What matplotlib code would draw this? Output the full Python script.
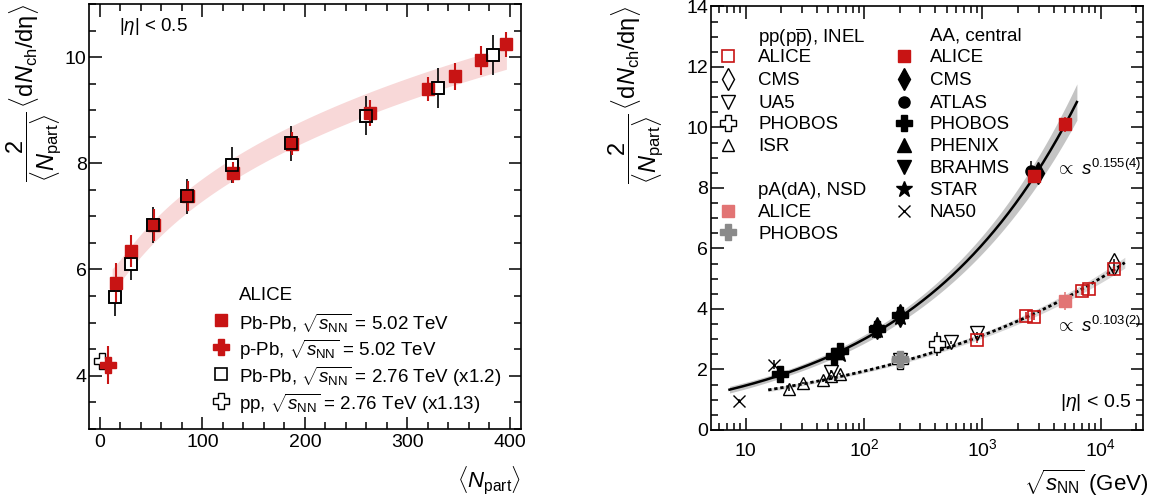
import numpy as np
import matplotlib.pyplot as plt
from matplotlib.ticker import (MultipleLocator, FixedLocator, FixedFormatter,
                               LogLocator, NullFormatter)

plt.rcParams['font.family'] = ['Liberation Sans', 'DejaVu Sans']
plt.rcParams['mathtext.fontset'] = 'custom'
plt.rcParams['mathtext.rm'] = 'Liberation Sans'
plt.rcParams['mathtext.it'] = 'Liberation Sans:italic'
plt.rcParams['mathtext.bf'] = 'Liberation Sans:bold'

RED = '#c81414'
PINK = '#f8d8d8'
PA_RED = '#e27474'
GREY = '#8a8a8a'

# ---- left panel: 2/<Npart> <dNch/deta> vs <Npart> ----
npart_pbpb502 = [15.4, 30, 53, 86, 130, 187, 263, 320, 346, 372, 396.5]
dndeta_pbpb502 = [5.75, 6.35, 6.83, 7.38, 7.82, 8.37, 8.95, 9.40, 9.64, 9.94, 10.24]
err_pbpb502 = [0.38, 0.30, 0.30, 0.28, 0.20, 0.22, 0.25, 0.23, 0.25, 0.27, 0.23]

npart_ppb = [7.9]
dndeta_ppb = [4.2]
err_ppb = [0.36]

npart_pbpb276 = [14.7, 30, 52, 85, 129, 186, 260, 330, 383]
dndeta_pbpb276 = [5.49, 6.10, 6.83, 7.38, 7.97, 8.38, 8.90, 9.42, 10.04]
err_pbpb276 = [0.37, 0.30, 0.34, 0.33, 0.34, 0.33, 0.36, 0.37, 0.38]

npart_pp276 = [2]
dndeta_pp276 = [4.28]
err_pp276 = [0.1]

# ---- right panel: vs sqrt(s_NN) ----
# pp(pbar p), INEL
pp_alice_s = [900, 2360, 2760, 7000, 8000, 13000]
pp_alice_y = [2.98, 3.78, 3.75, 4.60, 4.66, 5.31]
pp_alice_e = [0.10, 0.12, 0.10, 0.15, 0.15, 0.12]
pp_cms_s = [13000]
pp_cms_y = [5.49]
pp_cms_e = [0.15]
pp_ua5_s = [53, 200, 546, 900]
pp_ua5_y = [1.93, 2.30, 2.90, 3.20]
pp_ua5_e = [0.05, 0.05, 0.05, 0.05]
pp_phobos_s = [200, 410]
pp_phobos_y = [2.29, 2.85]
pp_phobos_e = [0.15, 0.40]
pp_isr_s = [23.4, 30.7, 44.8, 52.8, 62.4]
pp_isr_y = [1.34, 1.56, 1.64, 1.78, 1.86]
pp_isr_e = [0.04, 0.04, 0.04, 0.04, 0.04]
# pA(dA), NSD
pa_alice_s = [5020]
pa_alice_y = [4.27]
pa_alice_e = [0.30]
pa_phobos_s = [200]
pa_phobos_y = [2.35]
pa_phobos_e = [0.1]
# AA, central
aa_alice_s = [2760, 5020]
aa_alice_y = [8.38, 10.11]
aa_alice_e = [0.2, 0.25]
aa_cms_s = [2950]
aa_cms_y = [8.50]
aa_cms_e = [0.3]
aa_atlas_s = [2600]
aa_atlas_y = [8.55]
aa_atlas_e = [0.35]
aa_phobos_s = [19.6, 56, 62.4, 130, 200]
aa_phobos_y = [1.85, 2.45, 2.60, 3.35, 3.80]
aa_phobos_e = [0.1, 0.1, 0.1, 0.15, 0.15]
aa_phenix_s = [130, 200]
aa_phenix_y = [3.50, 3.95]
aa_phenix_e = [0.15, 0.15]
aa_brahms_s = [130, 200]
aa_brahms_y = [3.25, 3.65]
aa_brahms_e = [0.15, 0.15]
aa_star_s = [62.4, 130, 200]
aa_star_y = [2.50, 3.30, 3.75]
aa_star_e = [0.1, 0.1, 0.1]
aa_na50_s = [8.8, 17.3]
aa_na50_y = [0.96, 2.15]
aa_na50_e = [0.05, 0.15]

# power-law fits, quoted in the figure as s^0.155(4) and s^0.103(2)
fit_aa_exp, fit_aa_err, fit_aa_norm = 0.155, 0.004, 0.72
fit_aa_range = (7.3, 6300)
fit_pp_exp, fit_pp_err, fit_pp_norm = 0.103, 0.002, 0.753
fit_pp_range = (15.5, 16000)

YLABEL = (r'$\dfrac{2}{\langle N_{\rm part}\rangle}\,'
          r'\langle {\rm d}N_{\rm ch}/{\rm d}\mathrm{\eta}\rangle$')


def style_axes(ax):
    for sp in ax.spines.values():
        sp.set_linewidth(1.2)
    ax.tick_params(which='both', direction='in', top=True, right=True,
                   width=1.1, labelsize=14, pad=2)
    ax.tick_params(which='major', length=9)
    ax.tick_params(which='minor', length=4.8)


def legend_rows(ax, xm, xt, ys, labels, styles, fs=13.5):
    for y, lab, st in zip(ys, labels, styles):
        if st is not None:
            ax.plot([xm], [y], linestyle='none', transform=ax.transAxes,
                    clip_on=False, **st)
        ax.text(xt, y, lab, transform=ax.transAxes, ha='left',
                va='center_baseline', fontsize=fs)


fig = plt.figure(figsize=(11.55, 4.99), dpi=100)
ax1 = fig.add_axes([0.0773, 0.1409, 0.374, 0.851])
ax2 = fig.add_axes([0.6153, 0.1383, 0.3745, 0.8487])

# ================= left panel =================
style_axes(ax1)
ax1.set_xlim(-10.3, 411)
ax1.set_ylim(3, 11)
ax1.xaxis.set_major_locator(MultipleLocator(100))
ax1.xaxis.set_minor_locator(MultipleLocator(20))
ax1.yaxis.set_major_locator(MultipleLocator(2))
ax1.yaxis.set_minor_locator(MultipleLocator(0.5))
ax1.tick_params(axis='x', pad=4)

# fit band through the 5.02 TeV points
coef = np.polyfit(np.log(npart_pbpb502), dndeta_pbpb502, 2)
xb = np.linspace(12, npart_pbpb502[-1], 200)
yb = np.polyval(coef, np.log(xb))
ax1.fill_between(xb, yb - 0.21, yb + 0.21, color=PINK, lw=0, zorder=1)

open_sq = dict(marker='s', ms=9, mfc='white', mec='black', mew=1.2)
open_plus = dict(marker='P', ms=11, mfc='white', mec='black', mew=1.0)
red_sq = dict(marker='s', ms=9, color=RED)
red_plus = dict(marker='P', ms=11, color=RED)

ax1.errorbar(npart_pbpb276, dndeta_pbpb276, yerr=err_pbpb276, ls='none',
             ecolor='black', elinewidth=1.2, capsize=0, zorder=3, **open_sq)
ax1.errorbar(npart_pp276, dndeta_pp276, yerr=err_pp276, ls='none',
             ecolor='black', elinewidth=1.2, capsize=0, zorder=3, **open_plus)
ax1.errorbar(npart_pbpb502, dndeta_pbpb502, yerr=err_pbpb502, ls='none',
             ecolor=RED, elinewidth=1.5, capsize=0, zorder=4, **red_sq)
ax1.errorbar(npart_ppb, dndeta_ppb, yerr=err_ppb, ls='none',
             ecolor=RED, elinewidth=1.5, capsize=0, zorder=4, **red_plus)
ax1.plot(npart_pbpb276, dndeta_pbpb276, ls='none', marker='s', ms=9,
         mfc='none', mec='black', mew=1.2, zorder=5)

ax1.text(0.068, 0.947, r'$|\eta|$ < 0.5', transform=ax1.transAxes,
         va='center', fontsize=13.5)

legend_rows(ax1, 0.304, 0.346,
            [0.3195, 0.255, 0.1917, 0.1288, 0.066],
            ['ALICE',
             r'Pb-Pb, $\sqrt{s_{\rm NN}}$ = 5.02 TeV',
             r'p-Pb, $\sqrt{s_{\rm NN}}$ = 5.02 TeV',
             r'Pb-Pb, $\sqrt{s_{\rm NN}}$ = 2.76 TeV (x1.2)',
             r'pp, $\sqrt{s_{\rm NN}}$ = 2.76 TeV (x1.13)'],
            [None, red_sq, red_plus, open_sq, open_plus])

ax1.set_ylabel(YLABEL, fontsize=17, loc='top')
ax1.yaxis.set_label_coords(-0.061, 1.0)
ax1.set_xlabel(r'$\langle N_{\rm part}\rangle$', fontsize=16, loc='right')
ax1.xaxis.set_label_coords(1.0, -0.085)

# ================= right panel =================
style_axes(ax2)
ax2.set_xscale('log')
ax2.set_xlim(5.06, 22900)
ax2.set_ylim(0, 14)
ax2.xaxis.set_major_locator(FixedLocator([10, 100, 1000, 10000]))
ax2.xaxis.set_major_formatter(FixedFormatter(['10', r'$10^{2}$', r'$10^{3}$', r'$10^{4}$']))
ax2.xaxis.set_minor_locator(LogLocator(base=10, subs=np.arange(2, 10), numticks=30))
ax2.xaxis.set_minor_formatter(NullFormatter())
ax2.yaxis.set_major_locator(MultipleLocator(2))
ax2.yaxis.set_minor_locator(MultipleLocator(0.5))
ax2.tick_params(axis='x', pad=19)
for lab in ax2.get_xticklabels():
    lab.set_verticalalignment('baseline')

# fits with grey uncertainty bands
s_aa = np.geomspace(*fit_aa_range, 300)
y_aa = fit_aa_norm * s_aa ** (2 * fit_aa_exp)
w_aa = 0.1 + y_aa * np.abs(np.log(s_aa / 20)) * 2 * fit_aa_err
ax2.fill_between(s_aa, y_aa - w_aa, y_aa + w_aa, color='#c4c4c4', lw=0, zorder=1)
ax2.plot(s_aa, y_aa, color='black', lw=1.8, zorder=2)

s_pp = np.geomspace(*fit_pp_range, 300)
y_pp = fit_pp_norm * s_pp ** (2 * fit_pp_exp)
w_pp = 0.05 + y_pp * np.abs(np.log(s_pp / 50)) * 2 * fit_pp_err
ax2.fill_between(s_pp, y_pp - w_pp, y_pp + w_pp, color='#d6d6d6', lw=0, zorder=1)
ax2.plot(s_pp, y_pp, color='black', lw=2, dashes=(1.2, 1.0), zorder=2)

st_pp_alice = dict(marker='s', ms=8, mfc='none', mec=RED, mew=1.2, color=RED)
st_pp_cms = dict(marker='d', ms=11, mfc='none', mec='black', mew=1.0, color='black')
st_pp_ua5 = dict(marker='v', ms=10, mfc='none', mec='black', mew=1.0, color='black')
st_pp_phobos = dict(marker='P', ms=11, mfc='white', mec='black', mew=1.0, color='black')
st_pp_isr = dict(marker='^', ms=9, mfc='none', mec='black', mew=1.0, color='black')
st_pa_alice = dict(marker='s', ms=8, color=PA_RED)
st_pa_phobos = dict(marker='P', ms=11, color=GREY)
st_aa_alice = dict(marker='s', ms=8, color=RED)
st_aa_cms = dict(marker='d', ms=11, color='black')
st_aa_atlas = dict(marker='o', ms=8, color='black')
st_aa_phobos = dict(marker='P', ms=11, color='black')
st_aa_phenix = dict(marker='^', ms=10, color='black')
st_aa_brahms = dict(marker='v', ms=10, color='black')
st_aa_star = dict(marker='*', ms=12, color='black')
st_aa_na50 = dict(marker='x', ms=9, mew=1.0, color='black')

series = [
    (pp_isr_s, pp_isr_y, pp_isr_e, st_pp_isr),
    (pp_ua5_s, pp_ua5_y, pp_ua5_e, st_pp_ua5),
    (pp_phobos_s, pp_phobos_y, pp_phobos_e, st_pp_phobos),
    (pa_phobos_s, pa_phobos_y, pa_phobos_e, st_pa_phobos),
    (pp_cms_s, pp_cms_y, pp_cms_e, st_pp_cms),
    (pp_alice_s, pp_alice_y, pp_alice_e, st_pp_alice),
    (pa_alice_s, pa_alice_y, pa_alice_e, st_pa_alice),
    (aa_na50_s, aa_na50_y, aa_na50_e, st_aa_na50),
    (aa_phobos_s, aa_phobos_y, aa_phobos_e, st_aa_phobos),
    (aa_star_s, aa_star_y, aa_star_e, st_aa_star),
    (aa_phenix_s, aa_phenix_y, aa_phenix_e, st_aa_phenix),
    (aa_brahms_s, aa_brahms_y, aa_brahms_e, st_aa_brahms),
    (aa_atlas_s, aa_atlas_y, aa_atlas_e, st_aa_atlas),
    (aa_cms_s, aa_cms_y, aa_cms_e, st_aa_cms),
    (aa_alice_s, aa_alice_y, aa_alice_e, st_aa_alice),
]
for s, y, e, st in series:
    ax2.errorbar(s, y, yerr=e, ls='none', elinewidth=1.1, capsize=0, zorder=3, **st)

# legends
col1 = [0.934, 0.884, 0.829, 0.775, 0.725, 0.674]
col1b = [0.570, 0.518, 0.467]
col2 = [0.934, 0.884, 0.829, 0.775, 0.725, 0.674, 0.622, 0.570, 0.518]
legend_rows(ax2, 0.039, 0.110, col1,
            [r'pp(p$\overline{\rm p}$), INEL', 'ALICE', 'CMS', 'UA5', 'PHOBOS', 'ISR'],
            [None, st_pp_alice, st_pp_cms, st_pp_ua5, st_pp_phobos, st_pp_isr])
legend_rows(ax2, 0.039, 0.110, col1b,
            ['pA(dA), NSD', 'ALICE', 'PHOBOS'],
            [None, st_pa_alice, st_pa_phobos])
legend_rows(ax2, 0.447, 0.506, col2,
            ['AA, central', 'ALICE', 'CMS', 'ATLAS', 'PHOBOS', 'PHENIX',
             'BRAHMS', 'STAR', 'NA50'],
            [None, st_aa_alice, st_aa_cms, st_aa_atlas, st_aa_phobos,
             st_aa_phenix, st_aa_brahms, st_aa_star, st_aa_na50])

ax2.text(0.795, 0.617, r'$\propto\ s^{0.155(4)}$', transform=ax2.transAxes,
         va='center', fontsize=13.5)
ax2.text(0.795, 0.246, r'$\propto\ s^{0.103(2)}$', transform=ax2.transAxes,
         va='center', fontsize=13.5)
ax2.text(0.973, 0.066, r'$|\eta|$ < 0.5', transform=ax2.transAxes,
         ha='right', va='center', fontsize=14)

ax2.set_ylabel(YLABEL, fontsize=17, loc='top')
ax2.yaxis.set_label_coords(-0.106, 1.0)
ax2.set_xlabel(r'$\sqrt{s_{\rm NN}}$ (GeV)', fontsize=16, loc='right')
ax2.xaxis.set_label_coords(1.012, -0.089)

fig.savefig('out.png', dpi=100)
